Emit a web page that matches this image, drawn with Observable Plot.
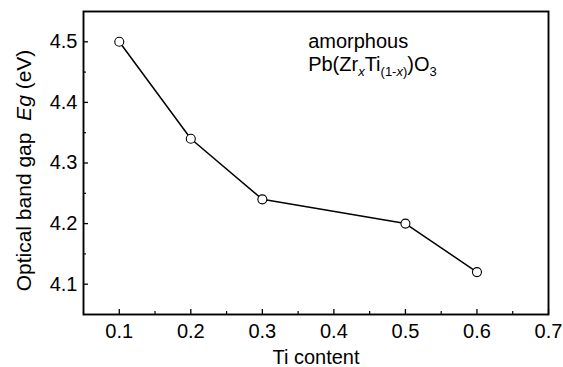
<!DOCTYPE html>
<html><head><meta charset="utf-8">
<script src="https://cdn.jsdelivr.net/npm/d3@7"></script>
<script src="https://cdn.jsdelivr.net/npm/@observablehq/plot@0.6"></script>
<style>
body{margin:0;background:#fff}
svg{font-family:"Liberation Sans",Arial,sans-serif}
</style>
</head><body><div id="chart"></div>
<script>
const tiContent = [0.1, 0.2, 0.3, 0.5, 0.6];
const bandGap = [4.50, 4.34, 4.24, 4.20, 4.12];
const xTicks = [0.1, 0.2, 0.3, 0.4, 0.5, 0.6, 0.7];
const xMinorTicks = [0.15, 0.25, 0.35, 0.45, 0.55, 0.65];
const yTicks = [4.1, 4.2, 4.3, 4.4, 4.5];
const yMinorTicks = [4.15, 4.25, 4.35, 4.45];
const xLabel = "Ti content";
const yLabel = "Optical band gap  Eg (eV)";
const annotX = [0.364, 0.364];
const annotY = [4.500, 4.462];
const annotText = ["amorphous", "Pb(ZrxTi(1-x))O3"];

const data = tiContent.map((x, i) => ({x, y: bandGap[i]}));
const annot = annotText.map((t, i) => ({x: annotX[i], y: annotY[i], t}));

const chart = Plot.plot({
  width: 563, height: 367,
  marginLeft: 83, marginTop: 11, marginRight: 15, marginBottom: 53,
  x: {domain: [0.05, 0.7]},
  y: {domain: [4.05, 4.55]},
  style: {fontSize: "20px", fontFamily: "'Liberation Sans', Arial, sans-serif", color: "#000", background: "#fff"},
  marks: [
    Plot.axisX(xTicks, {tickSize: -5, tickPadding: 14, strokeWidth: 1.3, tickFormat: d => d.toFixed(1), label: null, fontSize: 20}),
    Plot.axisX(xMinorTicks, {tickSize: -3, strokeWidth: 1.2, text: null, label: null}),
    Plot.axisY(yTicks, {tickSize: -5, tickPadding: 11, strokeWidth: 1.3, tickFormat: d => d.toFixed(1), label: null, fontSize: 20}),
    Plot.axisY(yMinorTicks, {tickSize: -3, strokeWidth: 1.2, text: null, label: null}),
    Plot.frame({stroke: "#000", strokeWidth: 1.9}),
    Plot.line(data, {x: "x", y: "y", stroke: "#000", strokeWidth: 1.5}),
    Plot.dot(data, {x: "x", y: "y", r: 4.5, fill: "#fff", stroke: "#000", strokeWidth: 1.1}),
    Plot.text([xLabel], {frameAnchor: "bottom", dy: 43, lineAnchor: "middle", textAnchor: "middle", fontSize: 20, fill: "#000"}),
    Plot.text([yLabel], {frameAnchor: "left", dx: -59, dy: 7.5, rotate: -90, textAnchor: "middle", lineAnchor: "middle", fontSize: 21, fill: "#000", className: "ylab"}),
    Plot.text(annot, {x: "x", y: "y", text: "t", textAnchor: "start", lineAnchor: "middle", fontSize: 20, fill: "#000", className: "annot"})
  ]
});
document.getElementById("chart").append(chart);

const svg = d3.select(chart);
// tick label sizes
svg.selectAll("text").filter(function() { return /^\d\.\d$/.test(this.textContent); })
  .style("font-size", "20px");

// rich text formatting (italics, subscripts)
const yl = svg.select(".ylab text");
yl.text(null);
yl.append("tspan").text("Optical band gap  ");
yl.append("tspan").attr("font-style", "italic").text("Eg");
yl.append("tspan").text(" (eV)");

const an = svg.selectAll(".annot text").filter((d, i, n) => n[i].textContent.startsWith("Pb"));
an.text(null);
const S = 13, SH = 5;
an.append("tspan").text("Pb(Zr");
an.append("tspan").attr("font-size", S).attr("dy", SH).attr("font-style", "italic").text("x");
an.append("tspan").attr("dy", -SH).text("Ti");
an.append("tspan").attr("font-size", S).attr("dy", SH).text("(1-");
an.append("tspan").attr("font-size", S).attr("font-style", "italic").text("x");
an.append("tspan").attr("font-size", S).text(")");
an.append("tspan").attr("dy", -SH).text(")O");
an.append("tspan").attr("font-size", S).attr("dy", SH).text("3");
</script>
</body></html>
